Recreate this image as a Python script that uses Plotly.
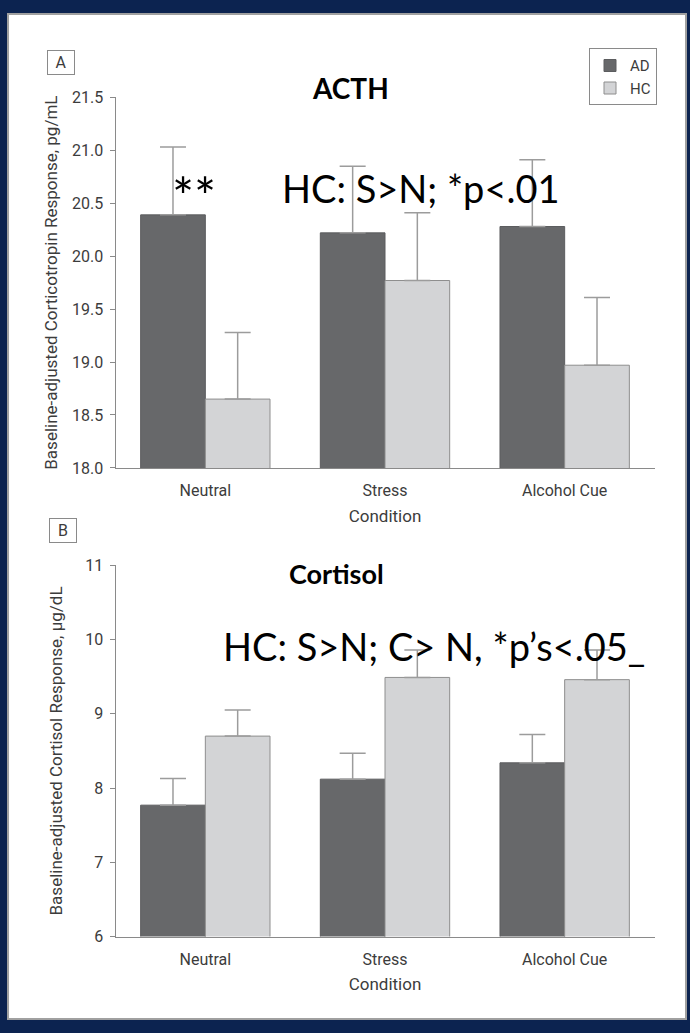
import plotly.graph_objects as go

# ---- data -------------------------------------------------------------
conditions = ["Neutral", "Stress", "Alcohol Cue"]

acth_ad = [20.39, 20.22, 20.28]
acth_ad_err = [0.64, 0.63, 0.63]
acth_hc = [18.65, 19.77, 18.97]
acth_hc_err = [0.63, 0.64, 0.64]

cort_ad = [7.77, 8.12, 8.34]
cort_ad_err = [0.36, 0.35, 0.38]
cort_hc = [8.70, 9.49, 9.46]
cort_hc_err = [0.35, 0.37, 0.40]

acth_ticks = [18.0, 18.5, 19.0, 19.5, 20.0, 20.5, 21.0, 21.5]
cort_ticks = [6, 7, 8, 9, 10, 11]

# ---- styling ----------------------------------------------------------
W, H = 690, 1033
NAVY = "#0c2350"
AD_COLOR = "#67686a"
HC_COLOR = "#d3d4d6"
AXIS_COLOR = "#8a8a8a"
TEXT_COLOR = "#3c3c3c"
NARROW = "Liberation Sans Narrow, Arial Narrow, Roboto, sans-serif"
SANS = "Lato, Carlito, Calibri, sans-serif"


def px(x):
    return x / W


def py(y):
    return 1 - y / H


x_dom = [px(115.5), px(654.5)]
top_dom = [py(467.5), py(90)]
bot_dom = [py(945), py(566.7)]


def bar(y, err, name, color, line_color, xa, ya, show):
    return go.Bar(
        x=conditions, y=y, name=name, xaxis=xa, yaxis=ya,
        legendgroup=name, showlegend=show,
        marker=dict(color=color, line=dict(color=line_color, width=1)),
        error_y=dict(type="data", array=err, arrayminus=[0] * len(err),
                     symmetric=False, color="#9c9c9c", thickness=1.5, width=13),
    )


fig = go.Figure()
fig.add_trace(bar(acth_ad, acth_ad_err, "AD", AD_COLOR, "#5c5d5f", "x", "y", True))
fig.add_trace(bar(acth_hc, acth_hc_err, "HC", HC_COLOR, "#8e8e8e", "x", "y", True))
fig.add_trace(bar(cort_ad, cort_ad_err, "AD", AD_COLOR, "#5c5d5f", "x2", "y2", False))
fig.add_trace(bar(cort_hc, cort_hc_err, "HC", HC_COLOR, "#8e8e8e", "x2", "y2", False))

tick_font = dict(family=NARROW, size=16, color=TEXT_COLOR)
title_font = dict(family=NARROW, size=17, color=TEXT_COLOR)


def xaxis(anchor):
    return dict(
        domain=x_dom, anchor=anchor, type="category",
        range=[-0.5, 2.5], showline=True, linecolor=AXIS_COLOR, linewidth=1,
        ticks="", showgrid=False, zeroline=False, tickfont=tick_font,
        ticklabelstandoff=8,
        title=dict(text="Condition", font=title_font, standoff=10),
        fixedrange=True,
    )


def yaxis(anchor, dom, rng, ticks, fmt, title, standoff):
    return dict(
        domain=dom, anchor=anchor, range=rng,
        tickvals=ticks, ticktext=[fmt.format(t) for t in ticks],
        showline=True, linecolor=AXIS_COLOR, linewidth=1,
        ticks="outside", ticklen=5, tickcolor=AXIS_COLOR, tickwidth=1,
        showgrid=False, zeroline=False, tickfont=tick_font,
        ticklabelstandoff=3,
        title=dict(text=title, font=title_font, standoff=standoff),
        fixedrange=True,
    )


annotations = [
    dict(text="ACTH", x=px(350), y=py(80), font=dict(family=SANS, size=28, color="black", weight="bold")),
    dict(text="**", x=px(194), y=py(190), font=dict(family=SANS, size=52, color="black")),
    dict(text="HC: S>N; *p<.01", x=px(420.5), y=py(182), font=dict(family=SANS, size=38, color="black")),
    dict(text="Cortisol", x=px(336), y=py(575), font=dict(family=SANS, size=27, color="black", weight="bold")),
    dict(text="HC: S>N; C> N, *p’s<.05_", x=px(434.5), y=py(649), font=dict(family=SANS, size=38, color="black")),
    dict(text="A", x=px(61), y=py(55), width=24, height=21, bordercolor="#8a8a8a", borderwidth=1,
         borderpad=1, font=dict(family=NARROW, size=16, color=TEXT_COLOR)),
    dict(text="B", x=px(62.5), y=py(531), width=24, height=21, bordercolor="#8a8a8a", borderwidth=1,
         borderpad=1, font=dict(family=NARROW, size=16, color=TEXT_COLOR)),
]
for a in annotations:
    a.update(xref="paper", yref="paper", showarrow=False, xanchor="center", yanchor="middle")

fig.update_layout(
    width=W, height=H,
    margin=dict(l=0, r=0, t=0, b=0),
    paper_bgcolor=NAVY, plot_bgcolor="white",
    barmode="group", bargap=0.28, bargroupgap=0,
    xaxis=xaxis("y"), xaxis2=xaxis("y2"),
    yaxis=yaxis("x", top_dom, [18, 21.5], acth_ticks, "{:.1f}",
                "Baseline-adjusted Corticotropin Response, pg/mL", 10),
    yaxis2=yaxis("x2", bot_dom, [6, 11], cort_ticks, "{:d}",
                 "Baseline-adjusted Cortisol Response, µg/dL", 18),
    legend=dict(x=px(657), xanchor="right", y=py(40), yanchor="top",
                bordercolor="#8a8a8a", borderwidth=1, bgcolor="white",
                font=dict(family=NARROW, size=15, color=TEXT_COLOR),
                itemwidth=30, tracegroupgap=0),
    annotations=annotations,
    shapes=[dict(type="rect", xref="paper", yref="paper", layer="below",
                 x0=px(8), x1=px(686), y0=py(1029), y1=py(5),
                 fillcolor="white", line=dict(color="#a0a0a0", width=2))],
    showlegend=True,
)

fig.write_html("out.html")
